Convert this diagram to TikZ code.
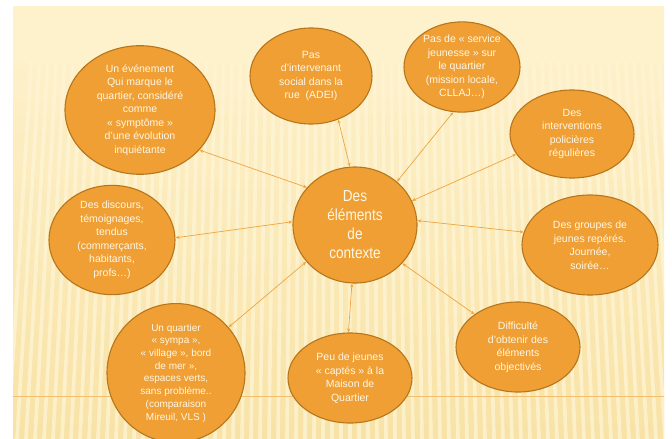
\documentclass[tikz,border=0pt]{standalone}
\usepackage{fontspec}
\setmainfont{Liberation Sans}
\newfontfamily\bigfont[FakeStretch=0.85]{Liberation Sans}
\usetikzlibrary{shapes.geometric,arrows.meta,fadings}
\definecolor{cream}{HTML}{FEF2CD}
\definecolor{creamlow}{HTML}{F8E2A6}
\definecolor{stripe}{HTML}{FFF6D8}
\definecolor{ellfill}{HTML}{EF9F33}
\definecolor{elldraw}{HTML}{B8761C}
\definecolor{conncol}{HTML}{EFA440}
\definecolor{linecol}{HTML}{F4BE70}
\definecolor{txtcol}{HTML}{FFF7E6}
\tikzset{
  bubble/.style={ellipse, draw=elldraw, line width=1.1pt, fill=ellfill, inner sep=0pt,
    align=center, text=txtcol, font=\fontsize{10.5}{13.5}\selectfont},
  conn/.style={draw=conncol, line width=0.7pt,
    {Stealth[length=4pt,width=3.2pt]}-{Stealth[length=4pt,width=3.2pt]}},
}
\begin{document}
\begin{tikzpicture}[x=1pt,y=-1pt]
\useasboundingbox (0,0) rectangle (672,439);
\fill[white] (0,0) rectangle (672,439);
% slide background
\fill[top color=cream, bottom color=creamlow] (13,6) rectangle (664,439);
\begin{scope}
  \clip (13,6) rectangle (664,439);
  \foreach \i in {0,...,76} {
    \pgfmathsetmacro{\xb}{8+\i*9}
    \pgfmathsetmacro{\xt}{\xb-(\xb-340)*0.07}
    \draw[stripe, line width=3.6pt, opacity=0.7] (\xt,60) -- (\xb,439);
  }
  \fill[cream, path fading=south] (13,6) rectangle (664,125);
  \fill[cream] (13,6) rectangle (664,62);
\end{scope}
\draw[linecol, line width=0.6pt] (13,396) -- (664,396);
% ellipses
\node[bubble, minimum width=150pt, minimum height=110pt] (e1) at (140,110)
  {Un événement\\Qui marque le\\quartier, considéré\\comme\\« symptôme »\\d’une évolution\\inquiétante};
\node[bubble, minimum width=122pt, minimum height=96pt] (e2) at (311,76)
  {Pas\\d’intervenant\\social dans la\\rue~~(ADEI)};
\node[bubble, minimum width=116pt, minimum height=90pt] (e3) at (462,67)
  {Pas de « service\\jeunesse » sur\\le quartier\\(mission locale,\\CLLAJ…)};
\node[bubble, minimum width=124pt, minimum height=88pt] (e4) at (572,134)
  {Des\\interventions\\policières\\régulières};
\node[bubble, minimum width=126pt, minimum height=100pt] (e5) at (112,240)
  {Des discours,\\témoignages,\\tendus\\(commerçants,\\habitants,\\profs…)};
\node[bubble, minimum width=124pt, minimum height=116pt, font=\bigfont\fontsize{16}{19}\selectfont] (c) at (355,225)
  {Des\\éléments\\de\\contexte};
\node[bubble, minimum width=136pt, minimum height=100pt] (e6) at (590,245)
  {Des groupes de\\jeunes repérés.\\Journée,\\soirée…};
\node[bubble, minimum width=138pt, minimum height=124pt, font=\fontsize{10}{12.7}\selectfont] (e7) at (176,373)
  {Un quartier\\« sympa »,\\« village », bord\\de mer »,\\espaces verts,\\sans problème..\\(comparaison\\Mireuil, VLS )};
\node[bubble, minimum width=124pt, minimum height=90pt] (e8) at (350,378)
  {Peu de jeunes\\« captés » à la\\Maison de\\Quartier};
\node[bubble, minimum width=124pt, minimum height=90pt] (e9) at (518,347)
  {Difficulté\\d’obtenir des\\éléments\\objectivés};
% connectors
\draw[conn] (c.142) -- (e1.-34);
\draw[conn] (c.95) -- (e2.-58);
\draw[conn] (c.46) -- (e3.-101);
\draw[conn] (c.23) -- (e4.-160);
\draw[conn] (c.4) -- (e6.169);
\draw[conn] (c.-39) -- (e9.143);
\draw[conn] (c.-93) -- (e8.92);
\draw[conn] (c.-143) -- (e7.41);
\draw[conn] (c.177) -- (e5.2);
\end{tikzpicture}
\end{document}
